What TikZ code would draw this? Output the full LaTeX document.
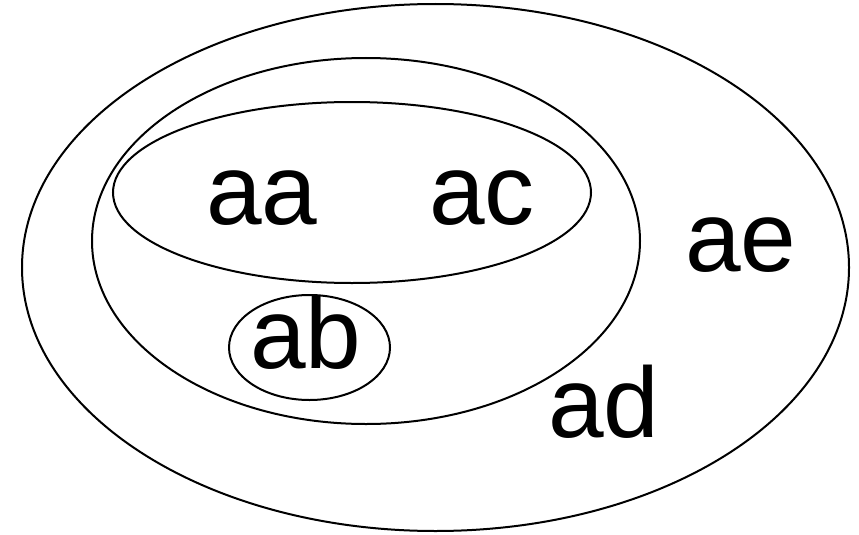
\documentclass[tikz,border=0pt]{standalone}
\usepackage{fontspec}
\setmainfont{Liberation Sans}
\begin{document}
\begin{tikzpicture}[x=1pt,y=-1pt,
  ring/.style={draw=black,line width=2pt},
  lbl/.style={inner sep=0pt,anchor=base,font=\fontsize{100}{100}\selectfont}]
\useasboundingbox (0,0) rectangle (859,535);
\draw[ring] (435.5,267.5) ellipse [x radius=413.5pt,y radius=263.5pt];
\draw[ring] (366,241) ellipse [x radius=274pt,y radius=183pt];
\draw[ring] (352,192.5) ellipse [x radius=239pt,y radius=90.5pt];
\draw[ring] (309.5,347.5) ellipse [x radius=80.5pt,y radius=52.5pt];
\node[lbl] (aa) at (262,224) {aa};
\node[lbl] (ac) at (482,224) {ac};
\node[lbl] (ab) at (306,368) {ab};
\node[lbl] (ae) at (741,271) {ae};
\node[lbl] (ad) at (604,437) {ad};
\end{tikzpicture}
\end{document}
